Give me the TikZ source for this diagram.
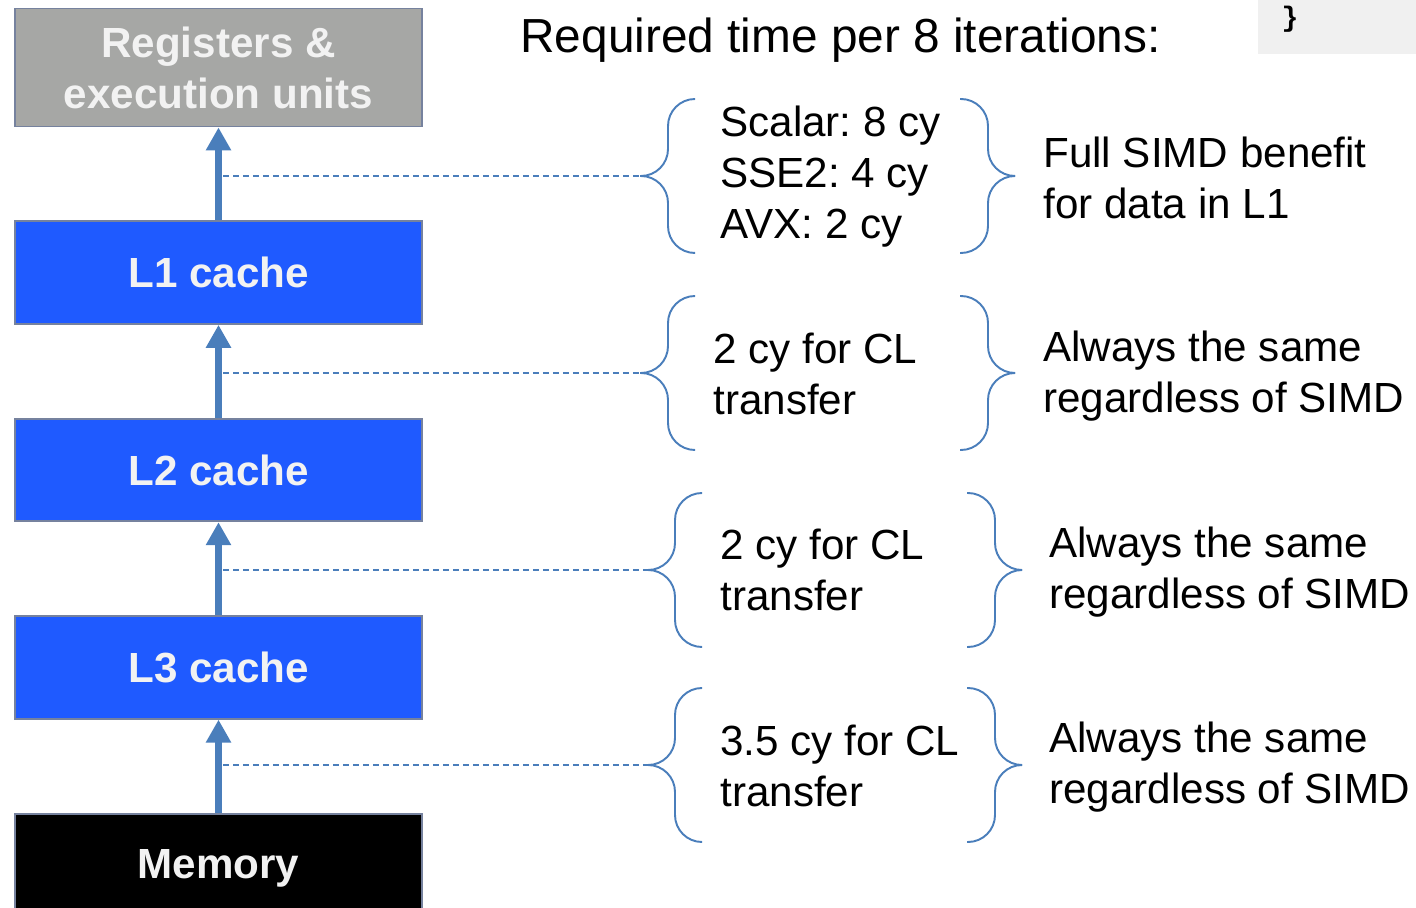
\documentclass[tikz,border=0pt]{standalone}
\usepackage{fontspec}
\setmainfont{Liberation Sans}
\newfontfamily\codefont{Liberation Mono}
\usepackage{xcolor}
\usetikzlibrary{positioning}
\usetikzlibrary{arrows.meta}
\frenchspacing
\definecolor{regsgray}{RGB}{166,167,165}
\definecolor{cacheblue}{RGB}{31,90,255}
\definecolor{flowblue}{RGB}{74,126,187}
\definecolor{edgegray}{RGB}{118,130,158}
\definecolor{codegray}{RGB}{240,240,240}
\definecolor{boxtext}{RGB}{242,242,242}
\tikzstyle{level} = [rectangle, minimum width=8.14cm, minimum height=2.05cm, draw=edgegray, line width=1.1pt, text=boxtext, font=\fontsize{24}{29}\selectfont\bfseries, align=center, fill=cacheblue]
\tikzstyle{flow} = [line width=4pt, draw=flowblue, -{Triangle[length=0.46cm, width=0.48cm]}]
\tikzstyle{dashline} = [draw=flowblue, line width=0.7pt, dash pattern=on 0.12cm off 0.08cm]
\tikzstyle{bracket} = [draw=flowblue, line width=1.1pt, rounded corners=0.54cm]
\tikzstyle{cost} = [anchor=west, align=left, inner sep=0pt, font=\fontsize{24}{29}\selectfont]

\begin{document}
\begin{tikzpicture}[x=0.02cm, y=-0.02cm, node distance=1.86cm]
\useasboundingbox (0,0) rectangle (1416,908);
% memory hierarchy
\node (regs) [level, fill=regsgray, minimum height=2.36cm] at (218.5,67.5) {Registers \&\\execution units};
\node (lone) [level, below=of regs] {L1 cache};
\node (ltwo) [level, below=of lone] {L2 cache};
\node (lthree) [level, below=of ltwo] {L3 cache};
\node (mem) [level, fill=black, minimum height=2.2cm, below=of lthree] {Memory};
\draw [flow] (lone.north) -- (regs.south);
\draw [flow] (ltwo.north) -- (lone.south);
\draw [flow] (lthree.north) -- (ltwo.south);
\draw [flow] (mem.north) -- (lthree.south);

% title and code snippet
\node (title) [anchor=base west, inner sep=0pt, font=\fontsize{27.2}{32}\selectfont] at (520,53) {Required time per 8 iterations:};
\fill [codegray] (1258,0) rectangle (1416,54);
\node (code) [font=\fontsize{16}{18}\selectfont\codefont\bfseries] at (1290,19) {\}};

% braces
\foreach \yc/\xl/\xr in {176/640/1015, 373/640/1015, 570/647/1022, 765/647/1022} {
  \draw [bracket] (\xl+55,\yc-77) -| (\xl+28,\yc) -- (\xl,\yc);
  \draw [bracket] (\xl+55,\yc+77) -| (\xl+28,\yc) -- (\xl,\yc);
  \draw [bracket] (\xr-55,\yc-77) -| (\xr-27,\yc) -- (\xr,\yc);
  \draw [bracket] (\xr-55,\yc+77) -| (\xr-27,\yc) -- (\xr,\yc);
}
\coordinate (tipA) at (640,176);
\coordinate (tipB) at (640,373);
\coordinate (tipC) at (647,570);
\coordinate (tipD) at (647,765);
\coordinate (midA) at (223,176);
\coordinate (midB) at (223,373);
\coordinate (midC) at (223,570);
\coordinate (midD) at (223,765);
\draw [dashline] (midA) -- (tipA);
\draw [dashline] (midB) -- (tipB);
\draw [dashline] (midC) -- (tipC);
\draw [dashline] (midD) -- (tipD);

% cycle counts
\node (costA) [cost] at (720,177) {Scalar: 8 cy\\SSE2: 4 cy\\AVX: 2 cy};
\node (costB) [cost] at (713,374) {2 cy for CL\\transfer};
\node (costC) [cost] at (720,570) {2 cy for CL\\transfer};
\node (costD) [cost] at (720,766) {3.5 cy for CL\\transfer};
\node (noteA) [cost] at (1043,178) {Full SIMD benefit\\for data in L1};
\node (noteB) [cost] at (1043,376) {Always the same\\regardless of SIMD};
\node (noteC) [cost] at (1049,572) {Always the same\\regardless of SIMD};
\node (noteD) [cost] at (1049,767) {Always the same\\regardless of SIMD};
\end{tikzpicture}
\end{document}
